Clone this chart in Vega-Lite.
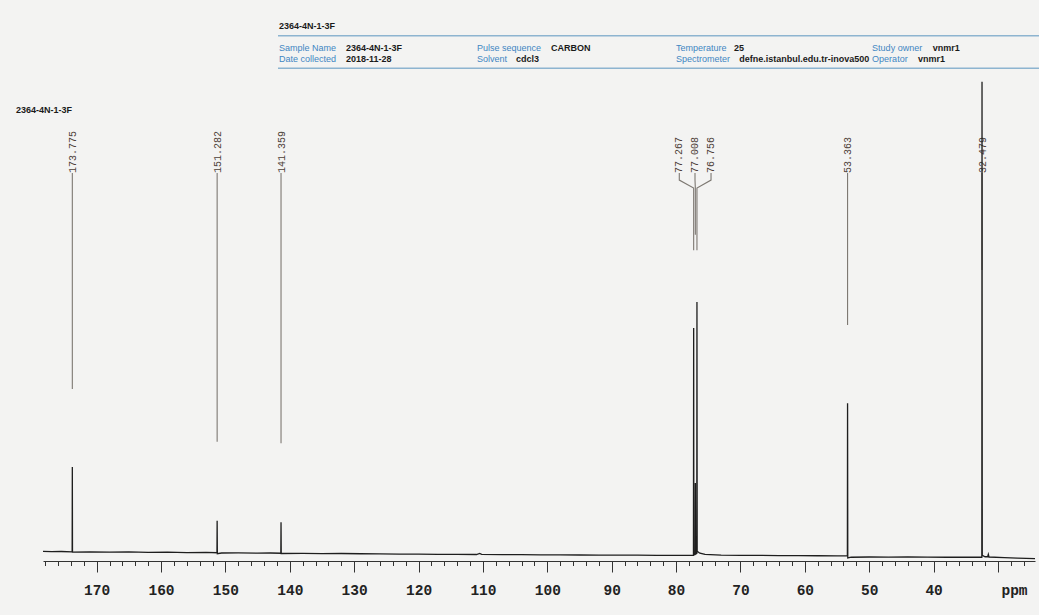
{
  "$schema": "https://vega.github.io/schema/vega-lite/v6.json",
  "width": 992,
  "height": 561,
  "autosize": {"type": "none"},
  "padding": {"left": 43, "top": 0, "right": 4, "bottom": 54},
  "background": "#f3f3f2",
  "config": {"view": {"stroke": null}},
  "datasets": {
    "spectrum": [
      {"ppm": 178.33, "y": 0.15}, {"ppm": 177, "y": 0.1}, {"ppm": 175.5, "y": 0.12},
      {"ppm": 173.8, "y": 0.05}, {"ppm": 173.775, "y": 18.1}, {"ppm": 173.75, "y": 0.0},
      {"ppm": 171, "y": 0.05}, {"ppm": 168, "y": -0.02}, {"ppm": 165, "y": 0.03},
      {"ppm": 162, "y": -0.05}, {"ppm": 159, "y": -0.02}, {"ppm": 156, "y": -0.1},
      {"ppm": 153, "y": -0.08}, {"ppm": 151.31, "y": -0.15}, {"ppm": 151.282, "y": 6.67},
      {"ppm": 151.25, "y": -0.35}, {"ppm": 150.6, "y": -0.2}, {"ppm": 148, "y": -0.18},
      {"ppm": 145, "y": -0.22}, {"ppm": 143, "y": -0.2}, {"ppm": 141.39, "y": -0.25},
      {"ppm": 141.359, "y": 6.33}, {"ppm": 141.33, "y": -0.3}, {"ppm": 138, "y": -0.28},
      {"ppm": 135, "y": -0.32}, {"ppm": 132, "y": -0.3}, {"ppm": 129, "y": -0.36},
      {"ppm": 126, "y": -0.38}, {"ppm": 123, "y": -0.42}, {"ppm": 120, "y": -0.44},
      {"ppm": 117, "y": -0.47}, {"ppm": 114, "y": -0.48}, {"ppm": 111, "y": -0.52},
      {"ppm": 110.5, "y": -0.3}, {"ppm": 110.2, "y": -0.5}, {"ppm": 107, "y": -0.54},
      {"ppm": 104, "y": -0.56}, {"ppm": 101, "y": -0.58}, {"ppm": 98, "y": -0.6},
      {"ppm": 95, "y": -0.62}, {"ppm": 92, "y": -0.63}, {"ppm": 89, "y": -0.66},
      {"ppm": 86, "y": -0.66}, {"ppm": 83, "y": -0.69}, {"ppm": 80, "y": -0.7},
      {"ppm": 78, "y": -0.72}, {"ppm": 77.3, "y": -0.7}, {"ppm": 77.267, "y": 47.65},
      {"ppm": 77.24, "y": -0.6}, {"ppm": 77.035, "y": -0.5}, {"ppm": 77.008, "y": 14.69},
      {"ppm": 76.98, "y": -0.4}, {"ppm": 76.785, "y": -0.3}, {"ppm": 76.756, "y": 53.18},
      {"ppm": 76.72, "y": 0.15}, {"ppm": 76.3, "y": -0.25}, {"ppm": 75.5, "y": -0.5},
      {"ppm": 73, "y": -0.65}, {"ppm": 70, "y": -0.7}, {"ppm": 67, "y": -0.72},
      {"ppm": 64, "y": -0.74}, {"ppm": 61, "y": -0.76}, {"ppm": 58, "y": -0.78},
      {"ppm": 55, "y": -0.8}, {"ppm": 53.39, "y": -0.8}, {"ppm": 53.363, "y": 31.64},
      {"ppm": 53.33, "y": -1.25}, {"ppm": 52.8, "y": -1.1}, {"ppm": 50, "y": -1.05},
      {"ppm": 47, "y": -1.08}, {"ppm": 44, "y": -1.05}, {"ppm": 41, "y": -1.08},
      {"ppm": 38, "y": -1.1}, {"ppm": 35, "y": -1.1}, {"ppm": 32.51, "y": -1.1},
      {"ppm": 32.479, "y": 100}, {"ppm": 32.44, "y": -0.7}, {"ppm": 32.0, "y": -1.0},
      {"ppm": 31.6, "y": -1.0}, {"ppm": 31.5, "y": -0.5}, {"ppm": 31.4, "y": -1.05},
      {"ppm": 29, "y": -1.2}, {"ppm": 27, "y": -1.3}, {"ppm": 24.25, "y": -1.4}
    ],
    "peakLabels": [
      {"label": "173.775", "ppm": 173.65, "y": 80.6},
      {"label": "151.282", "ppm": 151.15, "y": 80.6},
      {"label": "141.359", "ppm": 141.23, "y": 80.6},
      {"label": "77.267", "ppm": 79.5, "y": 80.6},
      {"label": "77.008", "ppm": 77.06, "y": 80.6},
      {"label": "76.756", "ppm": 74.57, "y": 80.6},
      {"label": "53.363", "ppm": 53.24, "y": 80.6},
      {"label": "32.479", "ppm": 32.36, "y": 80.6}
    ],
    "leaders": [
      {"peak": "173.775", "ord": 1, "ppm": 173.775, "y": 80.6},
      {"peak": "173.775", "ord": 2, "ppm": 173.775, "y": 34.68},
      {"peak": "151.282", "ord": 1, "ppm": 151.282, "y": 80.6},
      {"peak": "151.282", "ord": 2, "ppm": 151.282, "y": 23.47},
      {"peak": "141.359", "ord": 1, "ppm": 141.359, "y": 80.6},
      {"peak": "141.359", "ord": 2, "ppm": 141.359, "y": 23.13},
      {"peak": "53.363", "ord": 1, "ppm": 53.363, "y": 80.6},
      {"peak": "53.363", "ord": 2, "ppm": 53.363, "y": 48.29},
      {"peak": "32.479", "ord": 1, "ppm": 32.479, "y": 80.6},
      {"peak": "32.479", "ord": 2, "ppm": 32.479, "y": 60},
      {"peak": "77.267", "ord": 1, "ppm": 79.5, "y": 80.6},
      {"peak": "77.267", "ord": 2, "ppm": 79.5, "y": 79.1},
      {"peak": "77.267", "ord": 3, "ppm": 77.267, "y": 77.4},
      {"peak": "77.267", "ord": 4, "ppm": 77.267, "y": 64.2},
      {"peak": "77.008", "ord": 1, "ppm": 77.06, "y": 80.6},
      {"peak": "77.008", "ord": 2, "ppm": 77.06, "y": 79.1},
      {"peak": "77.008", "ord": 3, "ppm": 77.008, "y": 77.4},
      {"peak": "77.008", "ord": 4, "ppm": 77.008, "y": 67.5},
      {"peak": "76.756", "ord": 1, "ppm": 74.57, "y": 80.6},
      {"peak": "76.756", "ord": 2, "ppm": 74.57, "y": 79.1},
      {"peak": "76.756", "ord": 3, "ppm": 76.756, "y": 77.4},
      {"peak": "76.756", "ord": 4, "ppm": 76.756, "y": 64.2}
    ],
    "header": [
      {"text": "2364-4N-1-3F", "kind": "value", "ppm": 141.67, "y": 111.87},
      {"text": "2364-4N-1-3F", "kind": "value", "ppm": 182.52, "y": 94.01},
      {"text": "Sample Name", "kind": "key", "ppm": 141.67, "y": 107.19},
      {"text": "Date collected", "kind": "key", "ppm": 141.67, "y": 104.85},
      {"text": "Pulse sequence", "kind": "key", "ppm": 110.92, "y": 107.19},
      {"text": "Solvent", "kind": "key", "ppm": 110.92, "y": 104.85},
      {"text": "Temperature", "kind": "key", "ppm": 80.01, "y": 107.19},
      {"text": "Spectrometer", "kind": "key", "ppm": 80.01, "y": 104.85},
      {"text": "Study owner", "kind": "key", "ppm": 49.55, "y": 107.19},
      {"text": "Operator", "kind": "key", "ppm": 49.55, "y": 104.85},
      {"text": "2364-4N-1-3F", "kind": "value", "ppm": 131.27, "y": 107.19},
      {"text": "2018-11-28", "kind": "value", "ppm": 131.27, "y": 104.85},
      {"text": "CARBON", "kind": "value", "ppm": 99.43, "y": 107.19},
      {"text": "cdcl3", "kind": "value", "ppm": 104.86, "y": 104.85},
      {"text": "25", "kind": "value", "ppm": 71.0, "y": 107.19},
      {"text": "defne.istanbul.edu.tr-inova500", "kind": "value", "ppm": 70.18, "y": 104.85},
      {"text": "vnmr1", "kind": "value", "ppm": 40.14, "y": 107.19},
      {"text": "vnmr1", "kind": "value", "ppm": 42.42, "y": 104.85}
    ],
    "hlines": [
      {"ppm": 141.83, "ppm2": 23.63, "y": 109.81},
      {"ppm": 141.83, "ppm2": 23.63, "y": 102.88}
    ]
  },
  "encoding": {
    "x": {
      "field": "ppm",
      "type": "quantitative",
      "scale": {"domain": [24.25, 178.33], "reverse": true, "nice": false, "zero": false},
      "axis": {
        "title": "ppm",
        "values": [26,28,30,32,34,36,38,40,42,44,46,48,50,52,54,56,58,60,62,64,66,68,70,72,74,76,78,80,82,84,86,88,90,92,94,96,98,100,102,104,106,108,110,112,114,116,118,120,122,124,126,128,130,132,134,136,138,140,142,144,146,148,150,152,154,156,158,160,162,164,166,168,170,172,174,176,178],
        "format": "d",
        "labelExpr": "(datum.value % 10 === 0 && datum.value !== 30) ? datum.label : ''",
        "tickSize": {"condition": {"test": "datum.value % 10 === 0", "value": 11}, "value": 4.5},
        "tickColor": "#333333",
        "tickWidth": 1,
        "domainColor": "#333333",
        "domainWidth": 1.2,
        "grid": false,
        "labelFont": "Liberation Mono",
        "labelFontSize": 14.5,
        "labelFontWeight": "bold",
        "labelColor": "#222222",
        "labelPadding": 11,
        "labelOverlap": false,
        "labelFlush": false,
        "titleFont": "Liberation Mono",
        "titleFontSize": 14.5,
        "titleFontWeight": "bold",
        "titleColor": "#222222",
        "titleAnchor": "start",
        "titleX": 971,
        "titleY": 29,
        "titleAlign": "center",
        "titleBaseline": "middle"
      }
    },
    "y": {
      "field": "y",
      "type": "quantitative",
      "scale": {"domain": [-1.9, 117.4], "nice": false, "zero": false},
      "axis": null
    }
  },
  "layer": [
    {
      "data": {"name": "hlines"},
      "mark": {"type": "rule", "color": "#8db4d0", "strokeWidth": 1.5, "clip": false},
      "encoding": {"x2": {"field": "ppm2"}}
    },
    {
      "data": {"name": "header"},
      "transform": [{"filter": "datum.kind === 'key'"}],
      "mark": {"type": "text", "align": "left", "baseline": "middle", "font": "Liberation Sans", "fontSize": 9, "color": "#3f86c2", "clip": false},
      "encoding": {"text": {"field": "text"}}
    },
    {
      "data": {"name": "header"},
      "transform": [{"filter": "datum.kind === 'value'"}],
      "mark": {"type": "text", "align": "left", "baseline": "middle", "font": "Liberation Sans", "fontSize": 9, "fontWeight": "bold", "color": "#1a1a1a", "clip": false},
      "encoding": {"text": {"field": "text"}}
    },
    {
      "data": {"name": "leaders"},
      "mark": {"type": "line", "color": "#7d7872", "strokeWidth": 1.1},
      "encoding": {"detail": {"field": "peak"}, "order": {"field": "ord"}}
    },
    {
      "data": {"name": "peakLabels"},
      "mark": {"type": "text", "angle": 270, "align": "left", "baseline": "middle", "font": "Liberation Mono", "fontSize": 10, "color": "#4d4038"},
      "encoding": {"text": {"field": "label"}}
    },
    {
      "data": {"name": "spectrum"},
      "mark": {"type": "line", "color": "#1e1e1e", "strokeWidth": 1.3},
      "encoding": {}
    }
  ]
}
